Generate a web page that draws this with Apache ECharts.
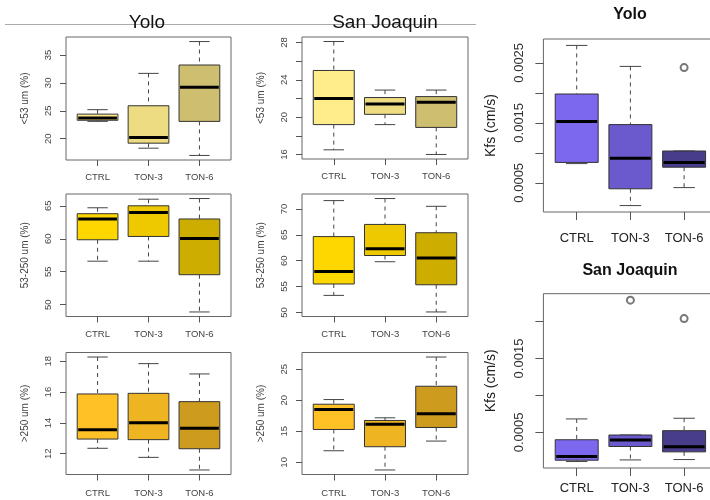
<!DOCTYPE html>
<html><head><meta charset="utf-8">
<script src="https://cdn.jsdelivr.net/npm/echarts@6/dist/echarts.min.js"></script>
<style>html,body{margin:0;padding:0;background:#fff}#c{width:710px;height:500px}</style>
</head><body><div id="c"></div>
<script>
// ---------- data ----------
const groups = ['CTRL', 'TON-3', 'TON-6'];
// each box: [min whisker, Q1, median, Q3, max whisker]
const yoloFine   = [[23.1, 23.3, 23.7, 24.4, 25.2], [18.3, 19.2, 20.2, 25.9, 31.7], [17.0, 23.1, 29.2, 33.2, 37.4]];
const sjFine     = [[16.5, 19.2, 22.0, 25.0, 28.1], [19.2, 20.3, 21.4, 22.1, 22.9], [16.0, 18.9, 21.6, 22.2, 22.9]];
const yoloMid    = [[56.6, 59.85, 63.0, 63.8, 64.7], [56.6, 60.35, 64.0, 65.0, 66.0], [48.9, 54.55, 60.05, 63.0, 66.1]];
const sjMid      = [[53.3, 55.5, 57.9, 64.65, 71.6], [59.8, 61.0, 62.3, 67.0, 72.0], [50.1, 55.35, 60.5, 65.4, 70.5]];
const yoloCoarse = [[12.35, 12.95, 13.56, 15.88, 18.28], [11.76, 12.91, 14.01, 15.92, 17.85], [10.94, 12.32, 13.65, 15.38, 17.18]];
const sjCoarse   = [[11.87, 15.3, 18.52, 19.37, 20.12], [8.77, 12.52, 16.16, 16.75, 17.18], [13.43, 15.62, 17.82, 22.27, 26.98]];
const yoloKfs    = [[0.00082, 0.00084, 0.00152, 0.00198, 0.00279], [0.00012, 0.00040, 0.00091, 0.00147, 0.00244], [0.00042, 0.00076, 0.00084, 0.00103, 0.00103]];
const sjKfs      = [[0.000105, 0.000123, 0.000173, 0.000400, 0.000682], [0.000127, 0.000309, 0.000395, 0.000464, 0.000464], [0.000132, 0.000236, 0.000305, 0.000523, 0.000691]];
const yoloKfsOut = [[], [], [0.00242]];
const sjKfsOut   = [[], [0.00229], [0.00204]];
const noOut      = [[], [], []];

// tick values / tick labels
const yoloFineTicks = [20, 25, 30, 35];
const sjFineTicks = [16, 18, 20, 22, 24, 26, 28];
const sjFineLabels = [16, 20, 24, 28];
const yoloMidTicks = [50, 55, 60, 65];
const sjMidTicks = [50, 55, 60, 65, 70];
const yoloCoarseTicks = [12, 14, 16, 18];
const sjCoarseTicks = [10, 15, 20, 25];
const yoloKfsTicks = [0.0005, 0.001, 0.0015, 0.002, 0.0025];
const yoloKfsLabels = [0.0005, 0.0015, 0.0025];
const sjKfsTicks = [0.0005, 0.001, 0.0015, 0.002];
const sjKfsLabels = [0.0005, 0.0015];

// ---------- styles ----------
const FONT = "'Liberation Sans', Arial, sans-serif";
const fineColors = ['#FFEC8B', '#EEDC82', '#CDBE70'];
const midColors = ['#FFD700', '#EEC900', '#CDAD00'];
const coarseColors = ['#FFC125', '#EEB422', '#CD9B1D'];
const kfsColors = ['#7B68EE', '#6A5ACD', '#483D8B'];

const panels = [
  {data: yoloFine, out: noOut, ticks: yoloFineTicks, labels: yoloFineTicks, name: '<53 um (%)', colors: fineColors, box: [66, 37, 165, 123], big: false, xm: 12},
  {data: sjFine, out: noOut, ticks: sjFineTicks, labels: sjFineLabels, name: '<53 um (%)', colors: fineColors, box: [302, 37, 166, 122], big: false, xm: 12},
  {data: yoloMid, out: noOut, ticks: yoloMidTicks, labels: yoloMidTicks, name: '53-250 um (%)', colors: midColors, box: [66, 194, 165, 122.5], big: false, xm: 13},
  {data: sjMid, out: noOut, ticks: sjMidTicks, labels: sjMidTicks, name: '53-250 um (%)', colors: midColors, box: [302, 194, 166, 122.5], big: false, xm: 13},
  {data: yoloCoarse, out: noOut, ticks: yoloCoarseTicks, labels: yoloCoarseTicks, name: '>250 um (%)', colors: coarseColors, box: [66, 352.5, 165, 122], big: false, xm: 13.5},
  {data: sjCoarse, out: noOut, ticks: sjCoarseTicks, labels: sjCoarseTicks, name: '>250 um (%)', colors: coarseColors, box: [302, 352.5, 166, 122], big: false, xm: 13.5},
  {data: yoloKfs, out: yoloKfsOut, ticks: yoloKfsTicks, labels: yoloKfsLabels, name: 'Kfs (cm/s)', colors: kfsColors, box: [543.4, 39, 174, 173], big: true, xm: 20},
  {data: sjKfs, out: sjKfsOut, ticks: sjKfsTicks, labels: sjKfsLabels, name: 'Kfs (cm/s)', colors: kfsColors, box: [543.4, 293.7, 174, 174.3], big: true, xm: 14}
];

function extent(p) {
  let lo = Infinity, hi = -Infinity;
  p.data.forEach((d, i) => {
    lo = Math.min(lo, ...d); hi = Math.max(hi, ...d);
    p.out[i].forEach(v => { lo = Math.min(lo, v); hi = Math.max(hi, v); });
  });
  const pad = (hi - lo) * 0.04;
  return [lo - pad, hi + pad];
}

function makeRender(colors) {
  return function (params, api) {
    const x = api.value(0);
    const lo = api.coord([x, api.value(1)]);
    const q1 = api.coord([x, api.value(2)]);
    const md = api.coord([x, api.value(3)]);
    const q3 = api.coord([x, api.value(4)]);
    const hi = api.coord([x, api.value(5)]);
    const bw = api.size([0.8, 0])[0];
    const cx = lo[0];
    const cap = bw / 4;
    const dash = {stroke: '#444', lineWidth: 1, lineDash: [4, 4]};
    const solid = {stroke: '#444', lineWidth: 1};
    return {type: 'group', children: [
      {type: 'line', shape: {x1: cx, y1: hi[1], x2: cx, y2: q3[1]}, style: dash},
      {type: 'line', shape: {x1: cx, y1: q1[1], x2: cx, y2: lo[1]}, style: dash},
      {type: 'line', shape: {x1: cx - cap, y1: hi[1], x2: cx + cap, y2: hi[1]}, style: solid},
      {type: 'line', shape: {x1: cx - cap, y1: lo[1], x2: cx + cap, y2: lo[1]}, style: solid},
      {type: 'rect', shape: {x: cx - bw / 2, y: q3[1], width: bw, height: q1[1] - q3[1]}, style: {fill: colors[x - 1], stroke: '#333', lineWidth: 1}},
      {type: 'line', shape: {x1: cx - bw / 2 + 1, y1: md[1], x2: cx + bw / 2 - 1, y2: md[1]}, style: {stroke: '#000', lineWidth: 3}}
    ]};
  };
}

const grid = [], xAxis = [], yAxis = [], series = [];
panels.forEach((p, i) => {
  const [l, t, w, h] = p.box;
  const ext = extent(p);
  const fs = p.big ? 13 : 9.5;
  grid.push({left: l, top: t, width: w, height: h, show: true, borderColor: '#666', borderWidth: 1,
    containLabel: false, outerBoundsMode: 'none'});
  xAxis.push({type: 'value', gridIndex: i, min: 0.38, max: 3.62,
    axisLine: {show: false}, splitLine: {show: false},
    axisTick: {show: true, customValues: [1, 2, 3], length: p.big ? 8 : 6, lineStyle: {color: '#555'}},
    axisLabel: {customValues: [1, 2, 3], margin: p.xm, fontSize: fs, color: p.big ? '#222' : '#444', fontFamily: FONT,
      formatter: v => groups[Math.round(v) - 1]}});
  yAxis.push({type: 'value', gridIndex: i, min: ext[0], max: ext[1],
    axisLine: {show: false}, splitLine: {show: false},
    axisTick: {show: true, customValues: p.ticks, length: p.big ? 8 : 6, lineStyle: {color: '#555'}},
    axisLabel: {customValues: p.labels, rotate: 90, margin: p.big ? 17 : 13, fontSize: fs, color: p.big ? '#333' : '#444', fontFamily: FONT,
      formatter: v => String(v)},
    name: p.name, nameLocation: 'middle', nameRotate: 90, nameGap: p.big ? 45 : 36,
    nameTextStyle: {fontSize: p.big ? 14 : 10, color: p.big ? '#222' : '#444', fontFamily: FONT}});
  series.push({type: 'custom', xAxisIndex: i, yAxisIndex: i, renderItem: makeRender(p.colors), clip: false,
    encode: {x: 0, y: [1, 2, 3, 4, 5]},
    data: p.data.map((d, k) => [k + 1, ...d])});
  const outPts = [];
  p.out.forEach((arr, k) => arr.forEach(v => outPts.push([k + 1, v])));
  if (outPts.length) {
    series.push({type: 'scatter', xAxisIndex: i, yAxisIndex: i, symbol: 'emptyCircle', symbolSize: 7,
      itemStyle: {color: '#555', borderColor: '#555', borderWidth: 1}, data: outPts, z: 5});
  }
});

const chart = echarts.init(document.getElementById('c'), null, {renderer: 'canvas'});
chart.setOption({
  animation: false,
  backgroundColor: '#fff',
  grid, xAxis, yAxis, series,
  graphic: [
    {type: 'line', shape: {x1: 5, y1: 24.5, x2: 476, y2: 24.5}, style: {stroke: '#aaa', lineWidth: 1}, z: 1},
    {type: 'text', x: 147, y: 22.5, style: {text: 'Yolo', font: "19px 'Liberation Sans', Arial", fill: '#111', textAlign: 'center', textVerticalAlign: 'middle'}, z: 2},
    {type: 'text', x: 385, y: 22.5, style: {text: 'San Joaquin', font: "19px 'Liberation Sans', Arial", fill: '#111', textAlign: 'center', textVerticalAlign: 'middle'}, z: 2},
    {type: 'text', x: 630, y: 15, style: {text: 'Yolo', font: "bold 16px 'Liberation Sans', Arial", fill: '#111', textAlign: 'center', textVerticalAlign: 'middle'}},
    {type: 'text', x: 630, y: 271, style: {text: 'San Joaquin', font: "bold 16px 'Liberation Sans', Arial", fill: '#111', textAlign: 'center', textVerticalAlign: 'middle'}}
  ]
});
</script>
</body></html>
